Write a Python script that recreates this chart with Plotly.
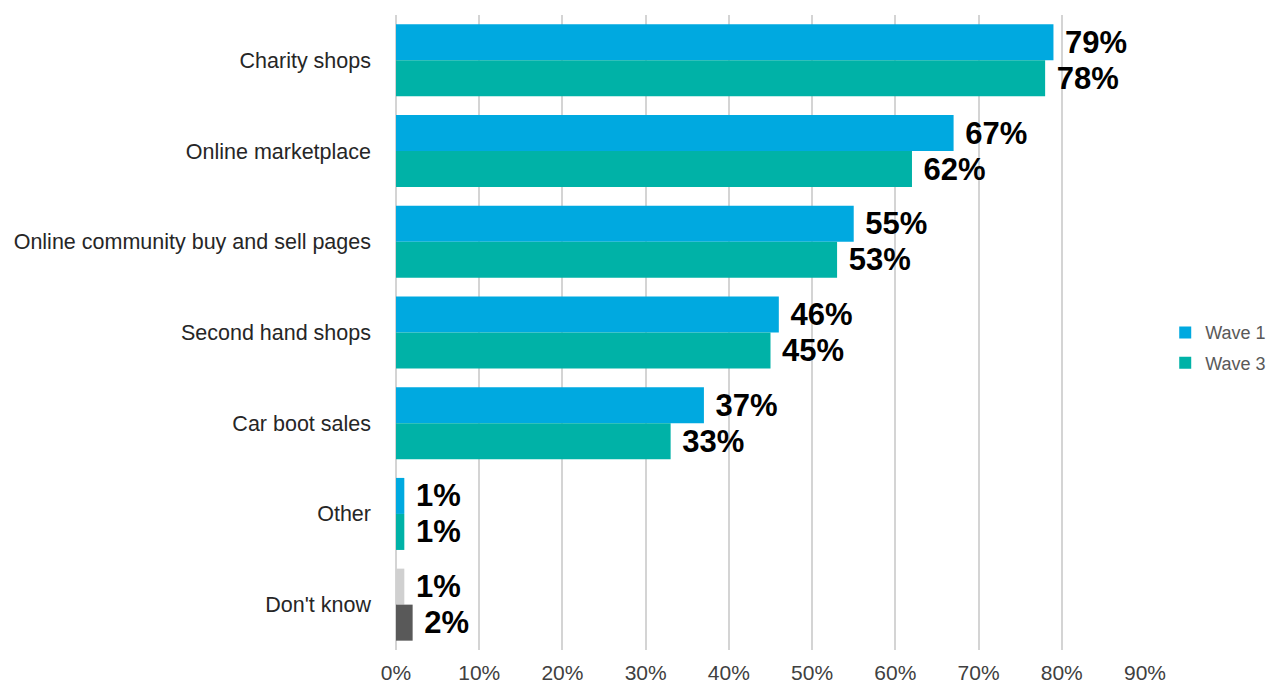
import plotly.graph_objects as go

# Where people buy second-hand goods, by survey wave
categories = [
    "Charity shops",
    "Online marketplace",
    "Online community buy and sell pages",
    "Second hand shops",
    "Car boot sales",
    "Other",
    "Don't know",
]
wave1 = [79, 67, 55, 46, 37, 1, 1]
wave3 = [78, 62, 53, 45, 33, 1, 2]

BLUE = "#00A9E0"
TEAL = "#00B2A7"
wave1_colors = [BLUE] * 6 + ["#D0D0D0"]
wave3_colors = [TEAL] * 6 + ["#595959"]

FONT = "Liberation Sans, Arial, sans-serif"

fig = go.Figure()
for name, vals, cols in (("Wave 1", wave1, wave1_colors), ("Wave 3", wave3, wave3_colors)):
    fig.add_trace(go.Bar(
        name=name,
        legendgroup=name,
        y=categories,
        x=[v / 100 for v in vals],
        orientation="h",
        marker=dict(color=cols, line=dict(width=0)),
        text=[f" {v}%" for v in vals],
        textposition="outside",
        textfont=dict(family=FONT, size=31, color="#000000", weight="bold"),
        cliponaxis=False,
        hoverinfo="skip",
    ))

fig.update_layout(
    width=1271,
    height=687,
    margin=dict(l=396, r=126, t=15, b=37, autoexpand=False),
    paper_bgcolor="white",
    plot_bgcolor="white",
    barmode="group",
    bargap=0.206,
    bargroupgap=0,
    font=dict(family=FONT, size=21.5, color="#262626"),
    legend=dict(
        x=1.027, y=0.476, xanchor="left", yanchor="middle",
        font=dict(family=FONT, size=18, color="#595959"),
        traceorder="grouped",
        tracegroupgap=4,
        itemwidth=30,
    ),
    xaxis=dict(
        range=[0, 0.9],
        tickvals=[i / 10 for i in range(10)],
        tickformat=".0%",
        showgrid=True,
        gridcolor="#D4D4D4",
        gridwidth=2,
        zeroline=True,
        zerolinecolor="#D4D4D4",
        zerolinewidth=2,
        showline=False,
        ticks="",
        ticklabelstandoff=8,
        tickfont=dict(family=FONT, size=21, color="#404040"),
        fixedrange=True,
    ),
    yaxis=dict(
        autorange="reversed",
        showgrid=False,
        ticks="",
        showline=False,
        ticklabelstandoff=24,
        tickfont=dict(family=FONT, size=21.5, color="#262626"),
        fixedrange=True,
    ),
)

fig.write_html("out.html")
